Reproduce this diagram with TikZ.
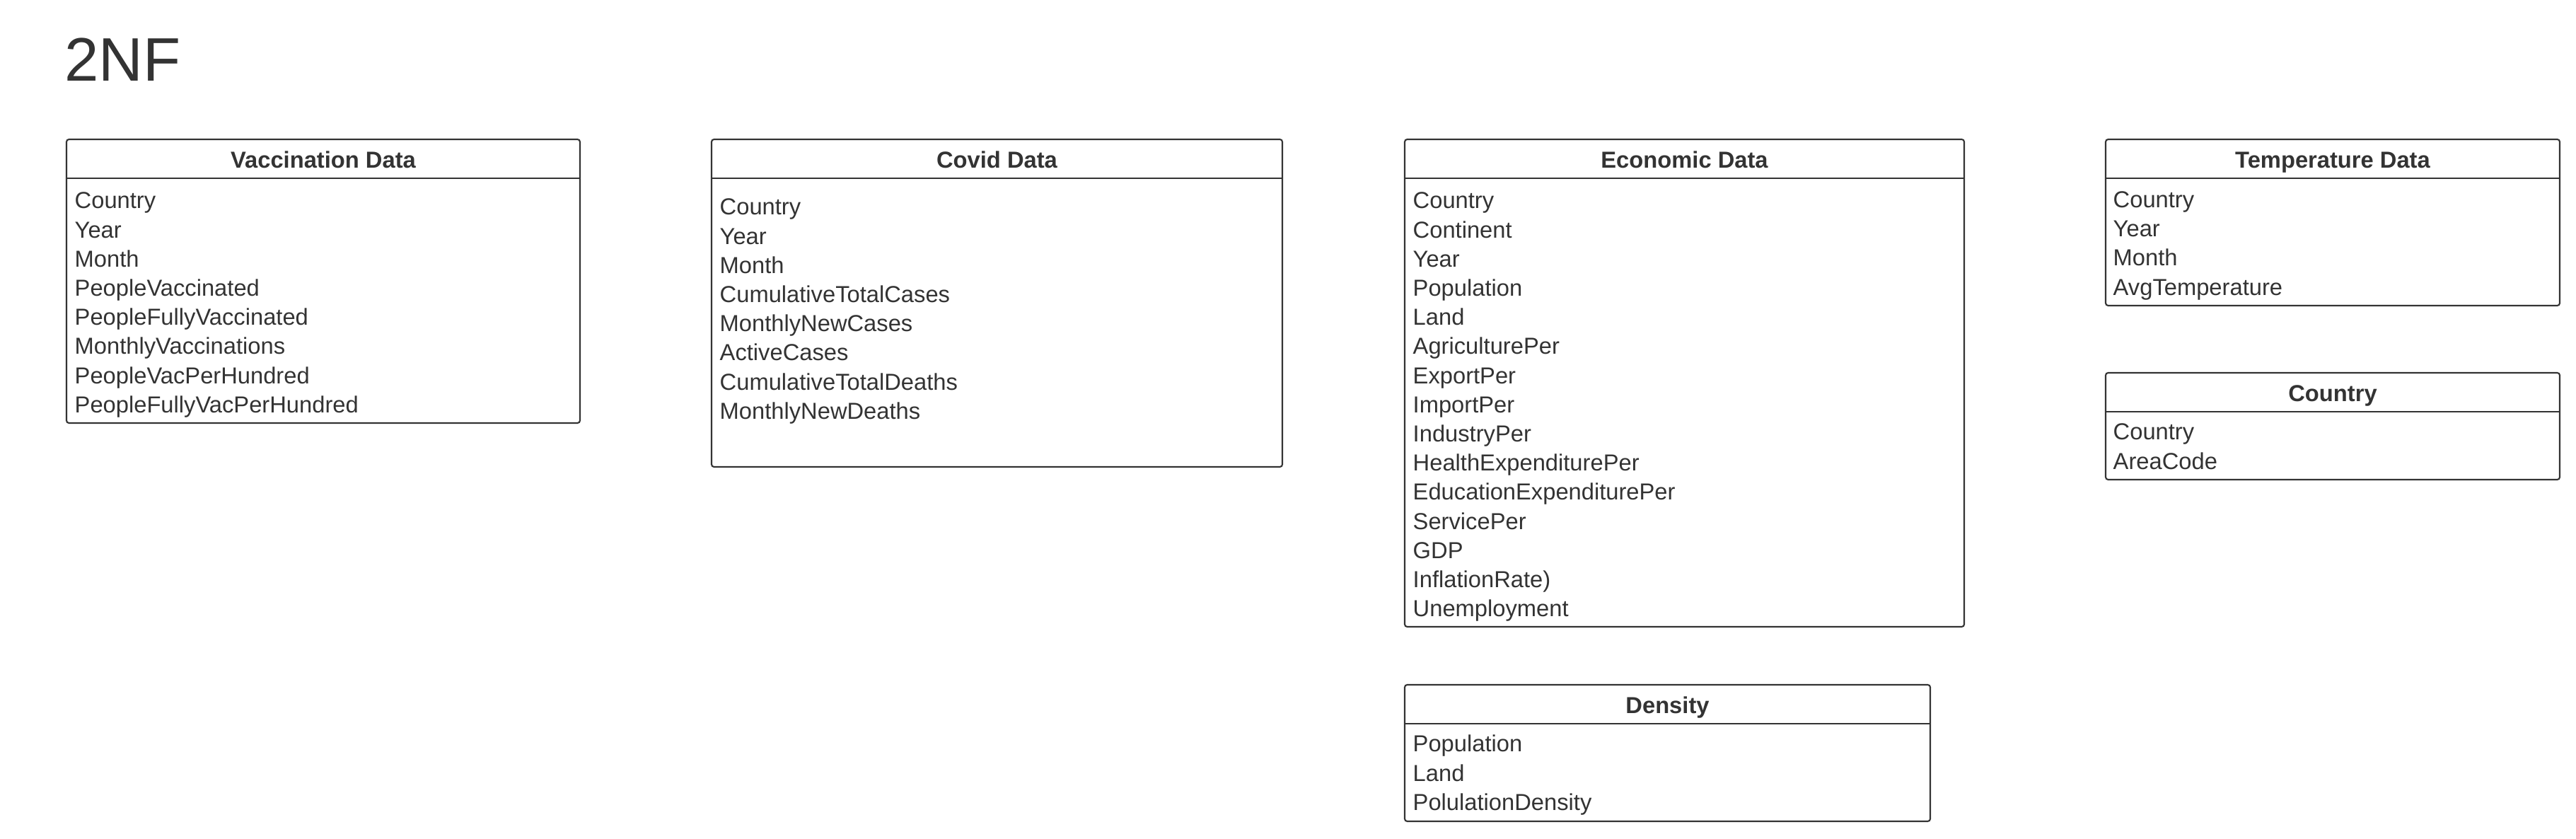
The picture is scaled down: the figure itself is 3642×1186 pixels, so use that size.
\documentclass[tikz,border=0pt]{standalone}
\usepackage{fontspec}
\setmainfont{Liberation Sans}
\definecolor{ink}{HTML}{333333}
\newcommand\mytable[9]{%
  \node[tbl, minimum width={(#4-#2)*0.01cm}, minimum height={(#5-#3)*0.01cm}] (#1) at (#2,#3) {};
  \draw[ink, line width=0.6pt] ([yshift=-0.55cm]#1.north west) -- ([yshift=-0.55cm]#1.north east);
  \node[ttl] (#1-title) at ({(#2+#4)/2},{#3+41}) {#6};
  \foreach \t [count=\i] in {#9} \node[attr] (#1-\i) at (#7,{#8+(\i-1)*41.2}) {\t};
}
\begin{document}
\begin{tikzpicture}[x=0.01cm,y=-0.01cm,
  tbl/.style={draw=ink, line width=0.6pt, rounded corners=1pt, anchor=north west, inner sep=0pt, outer sep=0pt},
  ttl/.style={font=\fontsize{9.3}{11}\selectfont\bfseries, text=ink, anchor=base, inner sep=0pt},
  attr/.style={font=\fontsize{9.3}{11}\selectfont, text=ink, anchor=base west, inner sep=0pt}]
\useasboundingbox (0,0) rectangle (3642,1186);
\node[font=\fontsize{24.7}{30}\selectfont, text=ink, anchor=base west, inner sep=0pt] (heading) at (91,115) {2NF};
\mytable{vac}{94}{197}{820}{598}{Vaccination Data}{105}{295}{Country,Year,Month,PeopleVaccinated,PeopleFullyVaccinated,MonthlyVaccinations,PeopleVacPerHundred,PeopleFullyVacPerHundred}
\mytable{covid}{1006}{197}{1813}{660}{Covid Data}{1017}{304}{Country,Year,Month,CumulativeTotalCases,MonthlyNewCases,ActiveCases,CumulativeTotalDeaths,MonthlyNewDeaths}
\mytable{econ}{1986}{197}{2777}{886}{Economic Data}{1997}{295}{Country,Continent,Year,Population,Land,AgriculturePer,ExportPer,ImportPer,IndustryPer,HealthExpenditurePer,EducationExpenditurePer,ServicePer,GDP,InflationRate),Unemployment}
\mytable{temp}{2977}{197}{3619}{432}{Temperature Data}{2987}{293.5}{Country,Year,Month,AvgTemperature}
\mytable{country}{2977}{527}{3619}{678}{Country}{2987}{622}{Country,AreaCode}
\mytable{density}{1986}{968}{2729}{1161}{Density}{1997}{1063}{Population,Land,PolulationDensity}
\end{tikzpicture}
\end{document}
